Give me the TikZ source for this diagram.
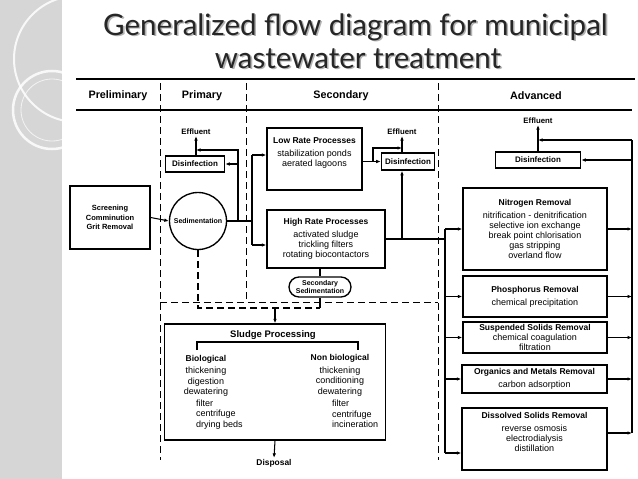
\documentclass[tikz,border=0pt]{standalone}
\usepackage{fontspec}
\setmainfont{Liberation Sans}
\newfontfamily\titlefont{Lato}
\usetikzlibrary{arrows.meta}
\definecolor{strip}{RGB}{214,214,214}
\newcommand{\shadowtext}[1]{\rlap{\kern1.6pt\raisebox{-1.6pt}{\color{black!30}#1}}{\color{black!85}#1}}
\begin{document}
\begin{tikzpicture}[x=1pt,y=-1pt,
  box/.style={draw, line width=1.35pt, inner sep=0pt, align=center,
    font=\fontsize{9}{10}\selectfont},
  dbox/.style={draw, line width=1.6pt, inner sep=0pt, align=center,
    font=\bfseries\fontsize{8}{9}\selectfont},
  lbl/.style={inner sep=1pt, align=center, font=\bfseries\fontsize{8}{9}\selectfont},
  hdr/.style={inner sep=0pt, font=\bfseries\fontsize{10.8}{12}\selectfont},
  txt/.style={inner sep=0pt, align=center, font=\fontsize{9}{10.5}\selectfont},
  ar/.style={-{Latex[length=4.5pt,width=3.6pt]}, line width=1.05pt},
  ln/.style={line width=1.05pt},
  dsh/.style={line width=1pt, dash pattern=on 7pt off 4pt},
  ttl/.style={anchor=base, inner sep=0pt, font=\titlefont\fontsize{29.5}{31}\selectfont}
]
\useasboundingbox (0,0) rectangle (638,479);
\fill[white] (0,0) rectangle (638,479);
% left decorative strip
\fill[strip] (0,0) rectangle (62,479);
\begin{scope}
  \clip (0,0) rectangle (62,479);
  \draw[white, line width=2pt, opacity=0.85] (77,59) circle[radius=63];
  \draw[white, line width=2.5pt, opacity=0.85] (52,110) circle[radius=39];
  \draw[white, line width=0.8pt, opacity=0.7] (52,110) circle[radius=31];
\end{scope}
% title
\node[ttl] (t1) at (355.5,35) {\shadowtext{Generalized flow diagram for municipal}};
\node[ttl] (t2) at (358,68) {\shadowtext{wastewater treatment}};
% header
\coordinate (hl1) at (76,79);  \coordinate (hr1) at (635,79);
\coordinate (hl2) at (76,110); \coordinate (hr2) at (632,110);
\draw[line width=1.4pt] (hl1) -- (hr1);
\draw[line width=1.1pt] (hl2) -- (hr2);
\node[hdr] (hpre) at (118,96) {Preliminary};
\node[hdr] (hpri) at (202,96) {Primary};
\node[hdr] (hsec) at (341,96) {Secondary};
\node[hdr] (hadv) at (536,96) {Advanced};
% zone separators
\coordinate (d1t) at (160,83); \coordinate (d1b) at (160,460);
\coordinate (d2t) at (246,83); \coordinate (d2b) at (246,302);
\coordinate (d3t) at (438,83); \coordinate (d3b) at (438,460);
\draw[dsh] (d1t) -- (d1b);
\draw[dsh] (d2t) -- (d2b);
\draw[dsh] (d3t) -- (d3b);
\draw[dsh] (d1b |- d2b) -- (d2b) -- (d3b |- d2b);
% preliminary
\node[box, minimum width=80pt, minimum height=63pt,
  font=\bfseries\fontsize{7.5}{9.5}\selectfont] (scr) at (110,217.5)
  {Screening\\Comminution\\Grit Removal};
% primary
\node[circle, draw, line width=1.35pt, minimum size=57pt, inner sep=0pt,
  font=\bfseries\fontsize{7}{8}\selectfont] (sed) at (198,221) {Sedimentation};
\node[dbox, minimum width=59pt, minimum height=16pt] (dis1) at (195,164) {Disinfection};
\node[lbl, font=\bfseries\fontsize{7.8}{9}\selectfont] (eff1) at (196,132) {Effluent};
\draw[ar] (scr.east) -- (sed.west);
\coordinate (j1) at (238,221);
\coordinate (j1t) at (238,150);
\coordinate (j2) at (252,221);
\draw[ln] (sed.east) -- (j2);
\draw[ar] (j1) -- (j1t) -- (j1t -| eff1.south);
\draw[ar] (j1 |- dis1.east) -- (dis1.east);
\draw[ar] (eff1.south |- dis1.north) -- (eff1.south);
% secondary
\node[box, minimum width=95pt, minimum height=62pt] (low) at (314.5,159)
  {{\bfseries\fontsize{8.5}{10}\selectfont Low Rate Processes}\\[3pt]
   stabilization ponds\\aerated lagoons\\[3pt]};
\node[box, minimum width=118pt, minimum height=58pt] (high) at (326,239)
  {{\bfseries\fontsize{8.5}{10}\selectfont High Rate Processes}\\[3pt]
   activated sludge\\trickling filters\\rotating biocontactors};
\node[draw, line width=1.35pt, rounded corners=10pt, minimum width=62pt,
  minimum height=20pt, inner sep=0pt, align=center,
  font=\bfseries\fontsize{7}{8.5}\selectfont] (ssed) at (320,287)
  {Secondary\\Sedimentation};
\node[dbox, minimum width=53pt, minimum height=17pt] (dis2) at (408,161.5) {Disinfection};
\node[lbl, font=\bfseries\fontsize{7.8}{9}\selectfont] (eff2) at (402,132) {Effluent};
\coordinate (j2t) at (252,155);
\coordinate (j2b) at (252,245);
\draw[ln] (j2t) -- (j2b);
\draw[ar] (j2t) -- (j2t -| low.west);
\draw[ar] (j2b) -- (j2b -| high.west);
\coordinate (j3) at (373,161.5);
\coordinate (j3t) at (373,148);
\draw[ar] (low.east |- j3) -- (dis2.west);
\draw[ar] (j3) -- (j3t) -- (j3t -| eff2.south);
\draw[ar] (eff2.south |- dis2.north) -- (eff2.south);
\draw[ln] (high.south -| ssed.north) -- (ssed.north);
% advanced
\node[box, minimum width=144pt, minimum height=82pt] (nit) at (535,229)
  {{\bfseries\fontsize{8.5}{10}\selectfont Nitrogen Removal}\\[3pt]
   nitrification - denitrification\\selective ion exchange\\
   break point chlorisation\\gas stripping\\overland flow};
\node[box, minimum width=144pt, minimum height=41pt] (pho) at (535,296.5)
  {{\bfseries\fontsize{8.5}{10}\selectfont Phosphorus Removal}\\[3pt]
   chemical precipitation};
\node[box, minimum width=144pt, minimum height=31pt] (sus) at (535,337.5)
  {{\bfseries\fontsize{8.5}{10}\selectfont Suspended Solids Removal}\\
   chemical coagulation\\filtration};
\node[box, minimum width=145pt, minimum height=28pt] (org) at (534.5,379)
  {{\bfseries\fontsize{8.5}{10}\selectfont Organics and Metals Removal}\\[3pt]
   carbon adsorption};
\node[box, minimum width=145pt, minimum height=62pt] (dsl) at (534.5,439)
  {{\bfseries\fontsize{8.5}{10}\selectfont Dissolved Solids Removal}\\[3pt]
   reverse osmosis\\electrodialysis\\distillation\\[5pt]};
\node[dbox, minimum width=85pt, minimum height=16pt] (dis3) at (538,160) {Disinfection};
\node[lbl, font=\bfseries\fontsize{7.8}{9}\selectfont] (eff3) at (538,121) {Effluent};
\coordinate (blt) at (445,229);
\coordinate (blb) at (445,453);
\draw[ln] (high.east) -- (high.east -| blt);
\draw[ln] (blt) -- (blb);
\draw[ar] (eff2.south |- high.east) -- (eff2.south |- dis2.south);
\draw[ar] (blt) -- (blt -| nit.west);
\draw[ar] (blt |- pho.west) -- (pho.west);
\draw[ar] (blt |- sus.west) -- (sus.west);
\draw[ar] (blt |- org.west) -- (org.west);
\draw[ar] (blb) -- (blb -| dsl.west);
\coordinate (brt) at (632,140);
\coordinate (brb) at (632,433);
\draw[ln] (brt) -- (brb);
\draw[ar] (nit.east) -- (nit.east -| brt);
\draw[ar] (pho.east) -- (pho.east -| brt);
\draw[ar] (sus.east) -- (sus.east -| brt);
\draw[ar] (org.east) -- (org.east -| brt);
\draw[ar] (brb -| dsl.east) -- (brb);
\draw[ar] (brt) -- (brt -| eff3.south);
\draw[ar] (brt |- dis3.east) -- (dis3.east);
\draw[ar] (dis3.north) -- (eff3.south);
% sludge processing
\node[draw, line width=1.35pt, minimum width=221pt, minimum height=116pt,
  inner sep=0pt] (slg) at (275,382) {};
\node[inner sep=0pt, font=\bfseries\fontsize{9.5}{11}\selectfont] (slgt) at (273,335)
  {Sludge Processing};
\coordinate (bkl) at (197,342); \coordinate (bkr) at (358,342);
\draw[line width=1.1pt] (bkl |- 0,350) -- (bkl) -- (bkr) -- (bkr |- 0,350);
\node[txt] (bio) at (206,376)
  {{\bfseries\fontsize{8.5}{10}\selectfont Biological}\\[2pt]thickening\\digestion\\dewatering};
\node[txt, align=left, anchor=west] (bios) at (196,414.5)
  {filter\\centrifuge\\drying beds};
\node[txt] (nbio) at (340,375.5)
  {{\bfseries\fontsize{8.5}{10}\selectfont Non biological}\\[2pt]thickening\\conditioning\\dewatering};
\node[txt, align=left, anchor=west] (nbios) at (332,414)
  {filter\\centrifuge\\incineration};
\node[lbl, font=\bfseries\fontsize{8.4}{10}\selectfont] (disp) at (274,463) {Disposal};
\coordinate (sl) at (198,308);
\coordinate (sr) at (320,308);
\draw[dsh, line width=1.2pt] (sed.south) -- (sl) -- (sr);
\draw[ln] (sr) -- (ssed.south);
\draw[ar] (slg.north |- sl) -- (slg.north);
\draw[ar] (slg.south) -- (disp.north);
\end{tikzpicture}
\end{document}
